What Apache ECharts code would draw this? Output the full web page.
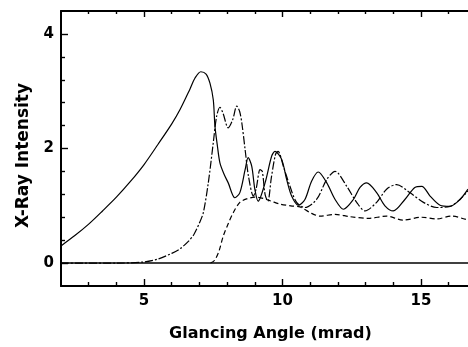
<!DOCTYPE html>
<html>
<head>
<meta charset="utf-8">
<script src="https://cdn.jsdelivr.net/npm/echarts@6.0.0/dist/echarts.min.js"></script>
<style>
  html, body { margin: 0; padding: 0; background: #fff; }
  #chart { width: 468px; height: 347px; }
</style>
</head>
<body>
<div id="chart"></div>
<script>
// glancing angle (mrad) / intensity
const angleSolid = [2.0, 2.5, 3.0, 3.5, 4.0, 4.5, 5.0, 5.5, 6.0, 6.3,
  6.66, 6.84, 7.05, 7.24, 7.38, 7.5, 7.56, 7.65, 7.74, 7.89,
  8.04, 8.28, 8.46, 8.65, 8.76, 8.89, 9.0, 9.12, 9.37, 9.61,
  9.73, 9.97, 10.15, 10.33, 10.57, 10.81, 11.05, 11.29, 11.6, 11.9,
  12.2, 12.56, 12.8, 13.04, 13.4, 13.7, 14.0, 14.42, 14.78, 15.03,
  15.33, 15.69, 16.05, 16.41, 16.7]
const intensitySolid = [0.30, 0.48, 0.68, 0.91, 1.15, 1.42, 1.72, 2.07, 2.43, 2.68,
  3.04, 3.23, 3.34, 3.30, 3.14, 2.85, 2.39, 2.04, 1.75, 1.55,
  1.40, 1.14, 1.23, 1.63, 1.84, 1.69, 1.29, 1.08, 1.40, 1.87,
  1.95, 1.81, 1.46, 1.17, 1.01, 1.11, 1.43, 1.59, 1.40, 1.11,
  0.94, 1.11, 1.32, 1.40, 1.23, 1.00, 0.91, 1.11, 1.32, 1.34,
  1.17, 1.01, 0.99, 1.11, 1.29]

const angleDashDot = [2.0, 4.0, 5.0, 5.5, 6.0, 6.3, 6.6, 6.8, 7.0, 7.14,
  7.32, 7.5, 7.62, 7.74, 7.85, 8.04, 8.2, 8.35, 8.45, 8.53,
  8.65, 8.77, 8.95, 9.05, 9.19, 9.27, 9.37, 9.47, 9.6, 9.75,
  9.84, 10.03, 10.27, 10.51, 10.81, 11.23, 11.6, 11.9, 12.32, 12.68,
  12.98, 13.4, 13.76, 14.12, 14.6, 15.09, 15.57, 16.05, 16.41, 16.7]
const intensityDashDot = [0, 0, 0.02, 0.07, 0.17, 0.25, 0.38, 0.5, 0.7, 0.88,
  1.4, 2.1, 2.56, 2.72, 2.62, 2.36, 2.5, 2.74, 2.65, 2.45,
  1.98, 1.52, 1.17, 1.3, 1.63, 1.6, 1.2, 1.08, 1.5, 1.9,
  1.95, 1.69, 1.34, 1.06, 0.97, 1.11, 1.46, 1.6, 1.34, 1.06,
  0.91, 1.06, 1.29, 1.37, 1.23, 1.06, 0.97, 0.99, 1.11, 1.26]

const angleDashed = [7.4, 7.55, 7.7, 7.86, 8.05, 8.22, 8.46, 8.7, 9.0, 9.3,
  9.6, 9.9, 10.3, 10.63, 11.0, 11.35, 11.9, 12.44, 13.1, 13.76,
  14.35, 15.03, 15.57, 16.1, 16.7]
const intensityDashed = [0, 0.05, 0.2, 0.47, 0.7, 0.88, 1.06, 1.12, 1.15, 1.13,
  1.08, 1.03, 1.0, 0.98, 0.88, 0.82, 0.85, 0.81, 0.78, 0.82,
  0.75, 0.80, 0.77, 0.82, 0.75]

const xMajorTicks = [5, 10, 15]
const xMinorTicks = [3, 4, 6, 7, 8, 9, 11, 12, 13, 14, 16]
const yMajorTicks = [0, 2, 4]
const yMinorTicks = [0.4, 0.8, 1.2, 1.6, 2.4, 2.8, 3.2, 3.6]

const X_MIN = 2, X_MAX = 16.7
const Y_MIN = -0.4, Y_MAX = 4.4
const FONT = "'DejaVu Sans', sans-serif"
const BLACK = '#000'

const zip = (xs, ys) => xs.map((x, i) => [x, ys[i]])

function tickAxis(position, values, length, showLine) {
  return {
    type: 'value',
    position,
    min: position === 'left' ? Y_MIN : X_MIN,
    max: position === 'left' ? Y_MAX : X_MAX,
    axisLine: { show: showLine, onZero: false, lineStyle: { color: BLACK, width: 2 } },
    axisTick: { show: true, inside: true, length, customValues: values, lineStyle: { color: BLACK, width: 1.4 } },
    axisLabel: { show: false },
    splitLine: { show: false },
  }
}

const labelStyle = { color: BLACK, fontFamily: FONT, fontWeight: 'bold', fontSize: 15 }

const xBottom = tickAxis('bottom', xMajorTicks, 7, true)
xBottom.axisLabel = { show: true, customValues: xMajorTicks, margin: 8, ...labelStyle }
xBottom.name = 'Glancing Angle (mrad)'
xBottom.nameLocation = 'middle'
xBottom.nameGap = 40
xBottom.nameTextStyle = { color: BLACK, fontFamily: FONT, fontWeight: 'bold', fontSize: 16, padding: [0, 0, 0, 12] }

const yLeft = tickAxis('left', yMajorTicks, 7, true)
yLeft.axisLabel = { show: true, customValues: yMajorTicks, margin: 7, ...labelStyle }
yLeft.name = 'X-Ray Intensity'
yLeft.nameLocation = 'middle'
yLeft.nameGap = 29
yLeft.nameTextStyle = { color: BLACK, fontFamily: FONT, fontWeight: 'bold', fontSize: 17, padding: [0, 14, 0, 0] }

function curve(xs, ys, type) {
  return {
    type: 'line',
    data: zip(xs, ys),
    smooth: 0.3,
    symbol: 'none',
    silent: true,
    lineStyle: { color: BLACK, width: 1.2, type },
  }
}

const solid = curve(angleSolid, intensitySolid, 'solid')
solid.markLine = {
  silent: true,
  symbol: 'none',
  label: { show: false },
  lineStyle: { color: BLACK, width: 1.5, type: 'solid' },
  data: [{ yAxis: 0 }],
}

const option = {
  animation: false,
  backgroundColor: '#fff',
  grid: { left: 61, right: 0, top: 11, bottom: 60 },
  xAxis: [
    xBottom,
    tickAxis('bottom', xMinorTicks, 4, false),
    tickAxis('top', xMajorTicks, 6, true),
    tickAxis('top', xMinorTicks, 3, false),
  ],
  yAxis: [
    yLeft,
    tickAxis('left', yMinorTicks, 4, false),
  ],
  series: [
    solid,
    curve(angleDashDot, intensityDashDot, [8, 2, 2, 2]),
    curve(angleDashed, intensityDashed, [5, 3]),
  ],
}

const chart = echarts.init(document.getElementById('chart'))
chart.setOption(option)
</script>
</body>
</html>
